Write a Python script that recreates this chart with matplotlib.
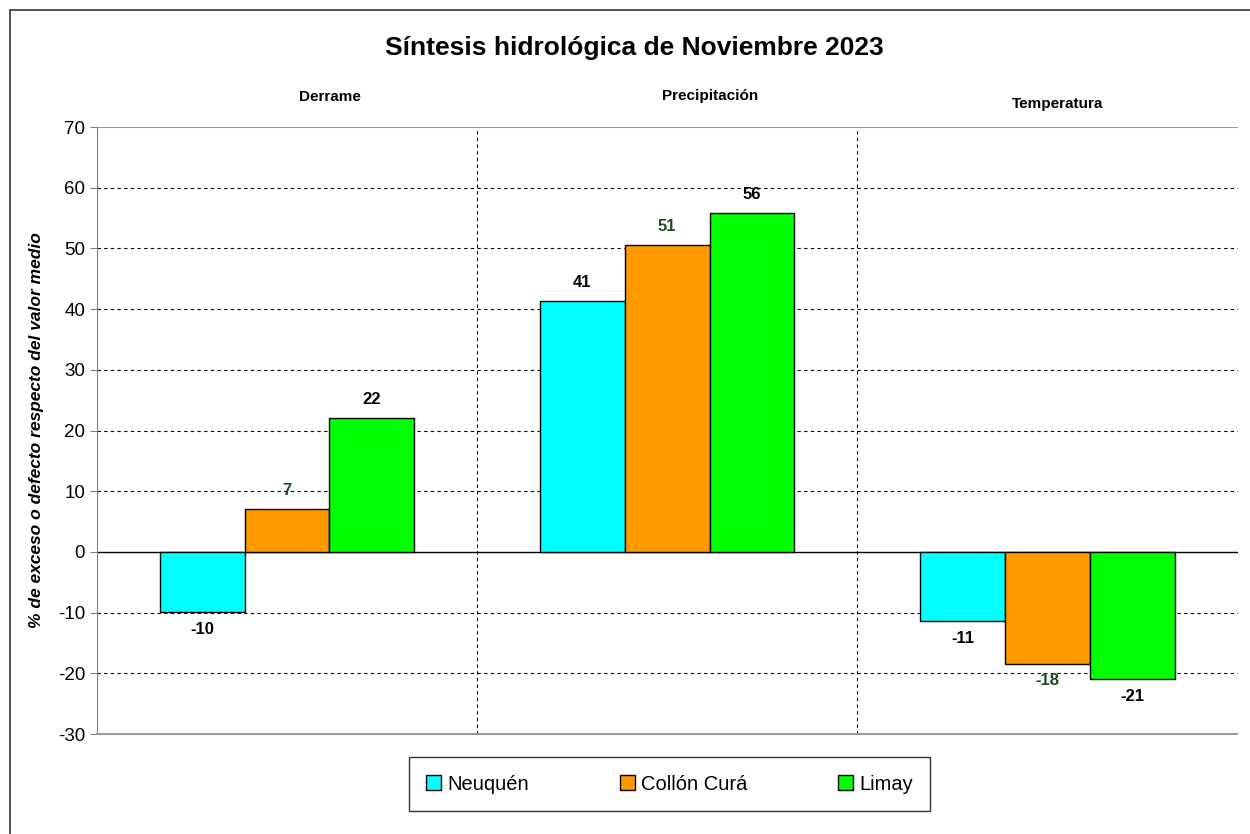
import matplotlib.pyplot as plt
from matplotlib.patches import Rectangle
import numpy as np

plt.rcParams["font.family"] = ["Liberation Sans", "DejaVu Sans"]
plt.rcParams["axes.unicode_minus"] = False

categories = ["Derrame", "Precipitación", "Temperatura"]
series = ["Neuquén", "Collón Curá", "Limay"]
neuquen = [-9.9, 41.3, -11.4]
collon_cura = [7.1, 50.6, -18.4]
limay = [22.1, 55.8, -21.0]
labels_neuquen = ["-10", "41", "-11"]
labels_collon = ["7", "51", "-18"]
labels_limay = ["22", "56", "-21"]

colors = ["#00FFFF", "#FF9900", "#00FF00"]
label_colors = ["black", "#1E4D1E", "black"]

fig = plt.figure(figsize=(12.5, 8.34), dpi=100)
# outer chart border
fig.patches.append(Rectangle((0.008, -0.01), 1.0, 0.998, transform=fig.transFigure,
                             fill=False, edgecolor="#333333", linewidth=1.2))
ax = fig.add_axes([0.0776, 0.1199, 0.9124, 0.7278])

x = np.arange(len(categories))
width = 0.223
all_vals = [neuquen, collon_cura, limay]
all_labels = [labels_neuquen, labels_collon, labels_limay]
for i, (vals, labs) in enumerate(zip(all_vals, all_labels)):
    pos = x + (i - 1) * width
    ax.bar(pos, vals, width, color=colors[i], edgecolor="black",
           linewidth=1.0, label=series[i], zorder=3)
    for px, v, lab in zip(pos, vals, labs):
        off = 8 if v >= 0 else -7
        ax.annotate(lab, (px, v), xytext=(0, off), textcoords="offset points",
                    ha="center", va="bottom" if v >= 0 else "top",
                    fontsize=12, fontweight="bold", color=label_colors[i])

ax.set_xlim(-0.5, 2.5)
ax.set_ylim(-30, 70)
ax.set_yticks(np.arange(-30, 71, 10))
ax.set_xticks([])
ax.tick_params(axis="y", labelsize=13.5, length=5, color="#808080")
for yv in range(-20, 71, 10):
    if yv == 0:
        ax.axhline(0, color="black", linewidth=1.0, zorder=2)
    elif yv == 70:
        ax.axhline(70, color="#999999", linewidth=1.5, zorder=2)
    else:
        ax.axhline(yv, color="black", linewidth=0.8, linestyle=(0, (3, 3)), zorder=1)
for xv in [0.5, 1.5]:
    ax.axvline(xv, color="black", linewidth=0.8, linestyle=(0, (3, 3)), zorder=1)
ax.spines["top"].set_visible(False)
ax.spines["right"].set_visible(False)
ax.spines["left"].set_color("#808080")
ax.spines["bottom"].set_color("#999999")
ax.spines["bottom"].set_linewidth(1.5)

ax.set_ylabel("% de exceso o defecto respecto del valor medio", fontsize=12.5,
              fontstyle="italic", fontweight="bold", labelpad=10)

fig.text(0.5076, 0.943, "Síntesis hidrológica de Noviembre 2023", ha="center",
         va="center", fontsize=19, fontweight="bold")
cat_pos = [(0.264, 0.884), (0.568, 0.885), (0.846, 0.875)]
for name, (cx, cy) in zip(categories, cat_pos):
    fig.text(cx, cy, name, ha="center", va="center", fontsize=11, fontweight="bold")

leg = ax.legend(loc="center", bbox_to_anchor=(0.502, -0.0824), ncol=3,
                fontsize=14.5, frameon=True, fancybox=False, edgecolor="black",
                handlelength=0.75, handleheight=0.75, columnspacing=4.5,
                handletextpad=0.3, borderpad=0.85, borderaxespad=0)
leg.get_frame().set_linewidth(1.0)

fig.savefig("out.png", dpi=100)
